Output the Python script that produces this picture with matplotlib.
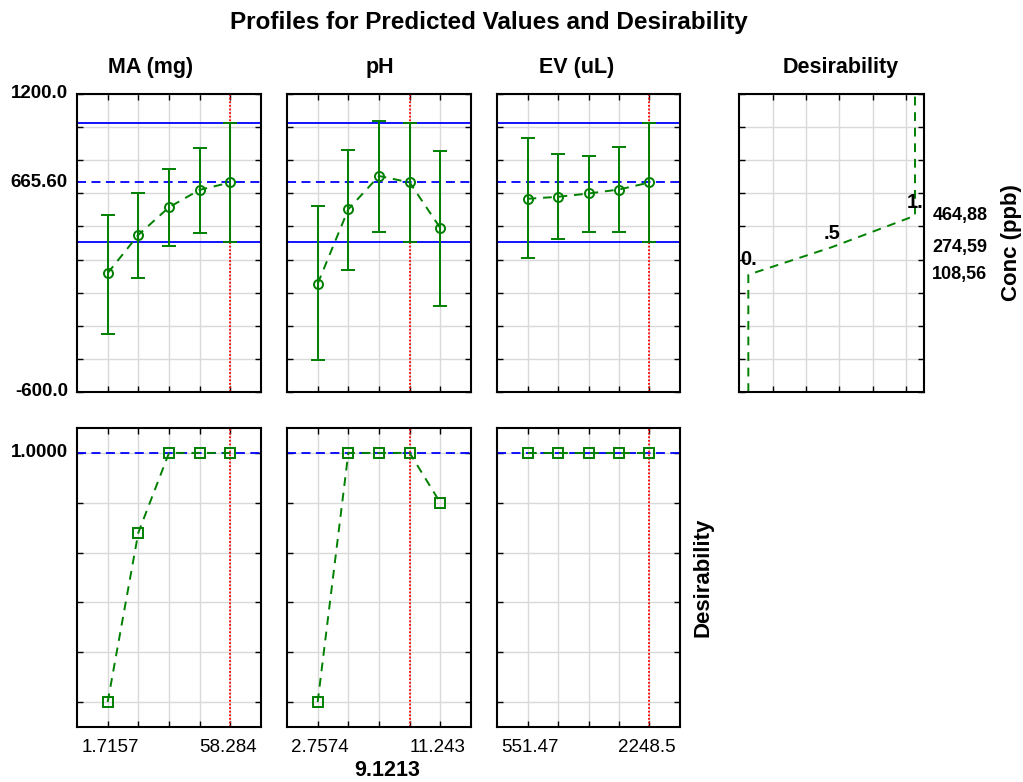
import matplotlib
matplotlib.use("Agg")
import matplotlib.pyplot as plt
import numpy as np

plt.rcParams['font.family'] = ['Liberation Sans', 'DejaVu Sans']

# factor levels (5 per factor)
ma_x = [1.7157, 15.858, 30.0, 44.142, 58.284]
ph_x = [2.7574, 4.8787, 7.0, 9.1213, 11.243]
ev_x = [551.47, 975.73, 1400.0, 1824.26, 2248.5]

# predicted conc (ppb) with confidence limits
ma_pred = [118, 349, 516, 621, 665.6]
ma_lo = [-250, 86, 281, 363, 303.6]
ma_hi = [472, 601, 746, 876, 1027.6]

ph_pred = [54, 504, 705, 665.6, 390]
ph_lo = [-409, 138, 367, 303.6, -81]
ph_hi = [524, 862, 1037, 1027.6, 856]

ev_pred = [567, 579, 599, 623, 665.6]
ev_lo = [211, 323, 365, 369, 303.6]
ev_hi = [935, 838, 828, 882, 1027.6]

# desirability at each level
ma_des = [0.0, 0.68, 1.0, 1.0, 1.0]
ph_des = [0.0, 1.0, 1.0, 1.0, 0.8]
ev_des = [1.0, 1.0, 1.0, 1.0, 1.0]

current = [58.284, 9.1213, 2248.5]
pred_now = 665.6
ci_lo, ci_hi = 303.6, 1027.6

# desirability function of conc
des_lvl = [0.0, 0.0, 0.5, 1.0, 1.0]
des_conc = [-600, 108.56, 274.59, 464.88, 1200]

names = ['MA (mg)', 'pH', 'EV (uL)']
xs = [ma_x, ph_x, ev_x]
preds = [ma_pred, ph_pred, ev_pred]
los = [ma_lo, ph_lo, ev_lo]
his = [ma_hi, ph_hi, ev_hi]
dess = [ma_des, ph_des, ev_des]
xlabs = [('1.7157', '58.284'), ('2.7574', '11.243'), ('551.47', '2248.5')]

W, H = 1023, 782
fig = plt.figure(figsize=(W / 100, H / 100), dpi=100)

def fax(l, r, t, b):
    return fig.add_axes([l / W, 1 - b / H, (r - l) / W, (b - t) / H])

lefts = [(77, 261), (287, 471), (497, 680)]
green = '#008000'
grid_c = '#d9d9d9'
dash = (0, (4.5, 3.5))

def style(ax):
    ax.tick_params(direction='in', length=4, width=1, top=True, right=True,
                   labelbottom=False, labelleft=False, labeltop=False, labelright=False)
    for s in ax.spines.values():
        s.set_linewidth(1.5)
    ax.grid(True, color=grid_c, lw=1)
    ax.set_axisbelow(True)

for i in range(3):
    l, r = lefts[i]
    x = np.array(xs[i])
    step = x[1] - x[0]
    # top row: predicted values
    ax = fax(l, r, 94, 392)
    style(ax)
    ax.set_xlim(x[0] - step, x[-1] + step)
    ax.set_ylim(-600, 1200)
    ax.set_xticks(x)
    ax.set_yticks(np.arange(-600, 1201, 200))
    ax.axhline(ci_hi, color='blue', lw=1.3)
    ax.axhline(ci_lo, color='blue', lw=1.3)
    ax.axhline(pred_now, color='blue', lw=1.3, ls=(0, (5, 3)))
    ax.axvline(current[i], color='red', lw=1.3, ls=(0, (1, 1)))
    p = np.array(preds[i])
    ax.errorbar(x, p, yerr=[p - np.array(los[i]), np.array(his[i]) - p], fmt='none',
                ecolor=green, elinewidth=1.4, capsize=5, capthick=1.4)
    ax.plot(x, p, color=green, lw=1.4, ls=dash, marker='o', ms=6.5,
            mfc='none', mec=green, mew=1.4)
    if i == 0:
        for yv, s in [(1200, '1200.0'), (pred_now, '665.60'), (-600, '-600.0')]:
            ax.text(-0.05, (yv + 600) / 1800, s, transform=ax.transAxes, ha='right',
                    va='center', fontsize=13.5, fontweight='bold')
    fig.text([151, 380, 577][i] / W, 1 - 68 / H, names[i], ha='center', va='center',
             fontsize=15.5, fontweight='bold')

    # bottom row: desirability
    ax2 = fax(l, r, 428, 727)
    style(ax2)
    ax2.set_xlim(x[0] - step, x[-1] + step)
    ax2.set_ylim(-0.1, 1.1)
    ax2.set_xticks(x)
    ax2.set_yticks(np.arange(0, 1.01, 0.2))
    ax2.axhline(1.0, color='blue', lw=1.3, ls=(0, (5, 3)))
    ax2.axvline(current[i], color='red', lw=1.3, ls=(0, (1, 1)))
    ax2.plot(x, dess[i], color=green, lw=1.4, ls=dash, marker='s', ms=6.5,
             mfc='none', mec=green, mew=1.4)
    ax2.text(0.18, -0.067, xlabs[i][0], transform=ax2.transAxes, ha='center',
             va='center', fontsize=13.5)
    ax2.text(0.82, -0.067, xlabs[i][1], transform=ax2.transAxes, ha='center',
             va='center', fontsize=13.5)
    if i == 0:
        ax2.text(-0.05, (1.0 + 0.1) / 1.2, '1.0000', transform=ax2.transAxes,
                 ha='right', va='center', fontsize=13.5, fontweight='bold')

# desirability function panel
axd = fax(739, 924, 94, 392)
style(axd)
axd.set_xlim(-0.056, 1.054)
axd.set_ylim(-600, 1200)
axd.set_xticks(np.arange(0.146, 1.0, 0.2))
axd.set_yticks(np.arange(-600, 1201, 200))
axd.plot(des_lvl, des_conc, color=green, lw=1.4, ls=dash)
axd.text(0.0, 140, '0.', ha='center', va='bottom', fontsize=14.5, fontweight='bold')
axd.text(0.5, 300, '.5', ha='center', va='bottom', fontsize=14.5, fontweight='bold')
axd.text(1.0, 490, '1.', ha='center', va='bottom', fontsize=14.5, fontweight='bold')
tr = axd.get_yaxis_transform()
for v, s in zip(des_conc[1:4], ['108,56', '274,59', '464,88']):
    axd.text(1.045, v, s, transform=tr, ha='left', va='center', fontsize=13,
             fontweight='bold')
fig.text(841 / W, 1 - 68 / H, 'Desirability', ha='center', va='center',
         fontsize=15.5, fontweight='bold')
fig.text(1012 / W, 1 - 243 / H, 'Conc (ppb)', ha='center', va='center', rotation=90,
         fontsize=16, fontweight='bold')
fig.text(703 / W, 1 - 577 / H, 'Desirability', ha='center', va='center', rotation=90,
         fontsize=16, fontweight='bold')
fig.text(387 / W, 1 - 771 / H, '9.1213', ha='center', va='center',
         fontsize=15.5, fontweight='bold')
fig.text(489 / W, 1 - 22 / H, 'Profiles for Predicted Values and Desirability',
         ha='center', va='center', fontsize=17.5, fontweight='bold')

fig.savefig('out.png', dpi=100)
